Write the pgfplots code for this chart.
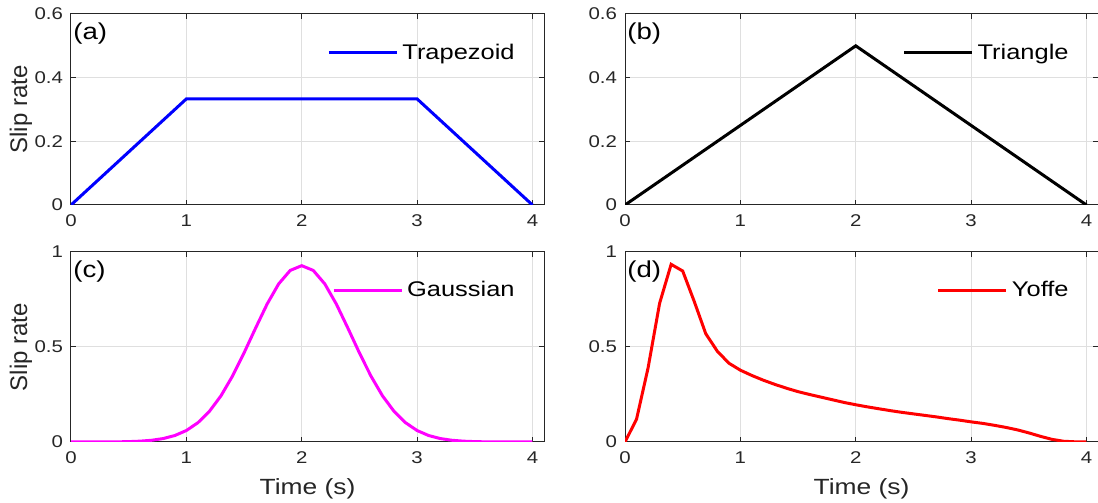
\documentclass[border=0pt]{standalone}
\usepackage{pgfplots}
\pgfplotsset{compat=1.18}
\usepackage{fontspec}
\setmainfont{Liberation Sans}[FakeStretch=1.2]
\newfontfamily\ylabfont{Liberation Sans}
\definecolor{axgray}{RGB}{38,38,38}
\definecolor{gridgray}{RGB}{223,223,223}
\definecolor{mblue}{RGB}{0,0,255}
\definecolor{mmag}{RGB}{255,0,255}
\definecolor{mred}{RGB}{255,0,0}
\tikzset{panellabel/.style={anchor=north west, inner sep=1pt, yshift=-3pt, font=\fontsize{11.5}{13}\selectfont}}
\pgfplotsset{
  panel/.style={
    scale only axis,
    width=236.5pt, height=95.5pt,
    xmin=0, xmax=4.1,
    xtick={0,1,2,3,4},
    axis line style={axgray, line width=0.5pt},
    tick style={axgray, line width=0.5pt},
    major tick length=2.5pt,
    tick align=inside,
    grid=major,
    major grid style={gridgray, line width=0.5pt},
    /pgf/number format/assume math mode=true,
    tick label style={font=\fontsize{8.5}{10}\selectfont, text=axgray},
    xticklabel style={yshift=-1.5pt},
    yticklabel style={xshift=-0.5pt},
    label style={font=\fontsize{11}{13}\selectfont, text=axgray},
    xlabel style={yshift=-0.5pt},
    ylabel style={font=\ylabfont\fontsize{12}{14}\selectfont,
      at={(rel axis cs:-0.106,0.5)}, anchor=center},
    legend style={at={(0.945,0.796)}, anchor=east, draw=none, fill=none,
      font=\fontsize{10.6}{13}\selectfont, inner sep=0pt,
      nodes={inner sep=1.5pt},
      /tikz/every odd column/.append style={column sep=0.5pt}},
    legend cell align=left,
    legend image code/.code={\draw[##1] (0pt,0pt) -- (34pt,0pt);},
    every axis plot/.append style={line width=1.5pt},
  }
}
\begin{document}
\begin{tikzpicture}[x=1pt,y=1pt]
\path[use as bounding box] (0,0) rectangle (549,251.5);
% (a)
\begin{axis}[panel, at={(35.5pt,149pt)}, anchor=south west,
  ymin=0, ymax=0.6, ytick={0,0.2,0.4,0.6},
  ylabel={Slip rate}]
\addplot[mblue] coordinates {(0,0) (1,0.3333) (3,0.3333) (4,0)};
\addlegendentry{Trapezoid}
\node[panellabel] at (rel axis cs:0,1) {(a)};
\end{axis}
% (b)
\begin{axis}[panel, at={(312.5pt,149pt)}, anchor=south west,
  ymin=0, ymax=0.6, ytick={0,0.2,0.4,0.6}]
\addplot[black] coordinates {(0,0) (2,0.5) (4,0)};
\addlegendentry{Triangle}
\node[panellabel] at (rel axis cs:0,1) {(b)};
\end{axis}
% (c)
\begin{axis}[panel, at={(35.5pt,30.5pt)}, anchor=south west, height=95pt,
  ymin=0, ymax=1, ytick={0,0.5,1},
  ylabel={Slip rate}, xlabel={Time (s)}]
\addplot[mmag] coordinates {
(0,0) (0.1,0) (0.2,0.0001) (0.3,0.0003) (0.4,0.0008) (0.5,0.0020)
(0.6,0.0044) (0.7,0.0092) (0.8,0.0182) (0.9,0.0341) (1.0,0.0604)
(1.1,0.1015) (1.2,0.1614) (1.3,0.2430) (1.4,0.3470) (1.5,0.4690)
(1.6,0.5994) (1.7,0.7260) (1.8,0.8320) (1.9,0.9030) (2.0,0.9280)
(2.1,0.9030) (2.2,0.8320) (2.3,0.7260) (2.4,0.5994) (2.5,0.4690)
(2.6,0.3470) (2.7,0.2430) (2.8,0.1614) (2.9,0.1015) (3.0,0.0604)
(3.1,0.0341) (3.2,0.0182) (3.3,0.0092) (3.4,0.0044) (3.5,0.0020)
(3.6,0.0008) (3.7,0.0003) (3.8,0.0001) (3.9,0) (4.0,0)};
\addlegendentry{Gaussian}
\node[panellabel] at (rel axis cs:0,1) {(c)};
\end{axis}
% (d)
\begin{axis}[panel, at={(312.5pt,30.5pt)}, anchor=south west, height=95pt,
  ymin=0, ymax=1, ytick={0,0.5,1},
  xlabel={Time (s)}]
\addplot[mred] coordinates {
(0,0) (0.1,0.12) (0.2,0.39) (0.3,0.73) (0.4,0.935) (0.5,0.90)
(0.6,0.74) (0.7,0.57) (0.8,0.478) (0.9,0.415) (1.0,0.378)
(1.1,0.350) (1.2,0.325) (1.3,0.303) (1.4,0.283) (1.5,0.265)
(1.6,0.250) (1.7,0.236) (1.8,0.222) (1.9,0.208) (2.0,0.196)
(2.1,0.185) (2.2,0.175) (2.3,0.165) (2.4,0.156) (2.5,0.148)
(2.6,0.140) (2.7,0.132) (2.8,0.123) (2.9,0.115) (3.0,0.106)
(3.1,0.098) (3.2,0.088) (3.3,0.077) (3.4,0.064) (3.5,0.048)
(3.6,0.030) (3.7,0.014) (3.8,0.004) (3.9,0.001) (4.0,0)};
\addlegendentry{Yoffe}
\node[panellabel] at (rel axis cs:0,1) {(d)};
\end{axis}
\end{tikzpicture}
\end{document}
